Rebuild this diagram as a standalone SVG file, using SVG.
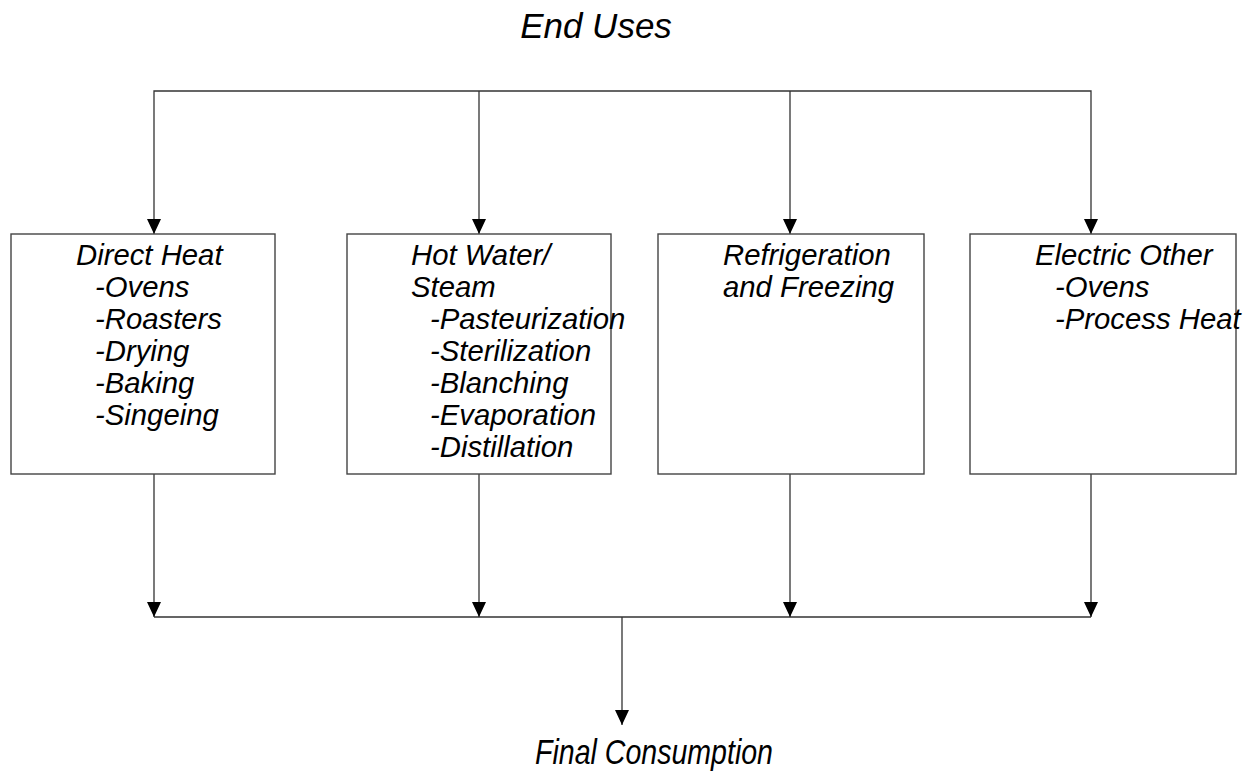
<svg xmlns="http://www.w3.org/2000/svg" width="1251" height="777" viewBox="0 0 1251 777">
  <style>
    .t { font-family: "Liberation Sans", Arial, sans-serif; font-style: italic; fill: #000; }
    .bt { font-size: 29.3px; }
    .box { fill: #fff; stroke: #444; stroke-width: 1.4; }
    .ln { fill: none; stroke: #333; stroke-width: 1.3; }
    .ah { fill: #000; }
  </style>
  <rect width="1251" height="777" fill="#fff"/>
  <text id="title" class="t" x="596" y="38" font-size="35" text-anchor="middle">End Uses</text>
  <g id="connectors">
    <path class="ln" d="M154,234 V91 H1091 V234 M479,91 V234 M790,91 V234"/>
    <path class="ln" d="M154,474 V617 M479,474 V617 M790,474 V617 M1091,474 V617 M154,617 H1091 M622,617 V725"/>
    <path class="ah" d="M147,219 L161,219 L154,234 Z M472,219 L486,219 L479,234 Z M783,219 L797,219 L790,234 Z M1084,219 L1098,219 L1091,234 Z"/>
    <path class="ah" d="M147,602 L161,602 L154,617 Z M472,602 L486,602 L479,617 Z M783,602 L797,602 L790,617 Z M1084,602 L1098,602 L1091,617 Z M615,710 L629,710 L622,725 Z"/>
  </g>
  <g id="direct-heat">
    <rect class="box" x="11" y="234" width="264" height="240"/>
    <text class="t bt">
      <tspan x="76" y="265">Direct Heat</tspan>
      <tspan x="95" y="297">-Ovens</tspan>
      <tspan x="95" y="329">-Roasters</tspan>
      <tspan x="95" y="361">-Drying</tspan>
      <tspan x="95" y="393">-Baking</tspan>
      <tspan x="95" y="425">-Singeing</tspan>
    </text>
  </g>
  <g id="hot-water-steam">
    <rect class="box" x="347" y="234" width="264" height="240"/>
    <text class="t bt">
      <tspan x="411" y="265">Hot Water/</tspan>
      <tspan x="411" y="297">Steam</tspan>
      <tspan x="430" y="329">-Pasteurization</tspan>
      <tspan x="430" y="361">-Sterilization</tspan>
      <tspan x="430" y="393">-Blanching</tspan>
      <tspan x="430" y="425">-Evaporation</tspan>
      <tspan x="430" y="457">-Distillation</tspan>
    </text>
  </g>
  <g id="refrigeration">
    <rect class="box" x="658" y="234" width="266" height="240"/>
    <text class="t bt">
      <tspan x="723" y="265">Refrigeration</tspan>
      <tspan x="723" y="297">and Freezing</tspan>
    </text>
  </g>
  <g id="electric-other">
    <rect class="box" x="970" y="234" width="266" height="240"/>
    <text class="t bt">
      <tspan x="1035" y="265">Electric Other</tspan>
      <tspan x="1055" y="297">-Ovens</tspan>
      <tspan x="1055" y="329">-Process Heat</tspan>
    </text>
  </g>
  <text id="final" class="t" x="535" y="764" font-size="35" textLength="238" lengthAdjust="spacingAndGlyphs">Final Consumption</text>
</svg>
